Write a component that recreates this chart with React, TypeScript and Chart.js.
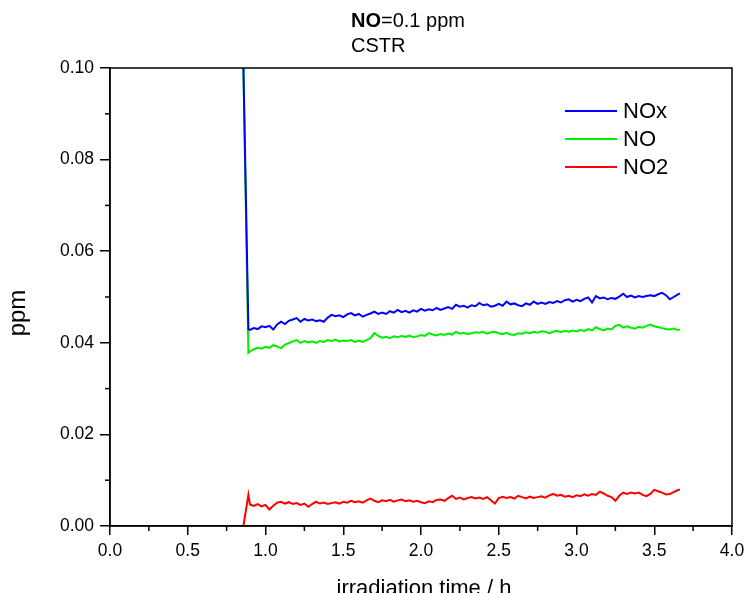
import React, { useEffect, useRef } from "react";
import { Chart, registerables } from "chart.js";

Chart.register(...registerables);

// irradiation time / h
const timeH = [
  0.858, 0.890,
  0.900, 0.925, 0.950, 0.975, 1.000, 1.025, 1.050, 1.075, 1.100, 1.125,
  1.150, 1.175, 1.200, 1.225, 1.250, 1.275, 1.300, 1.325, 1.350, 1.375,
  1.400, 1.425, 1.450, 1.475, 1.500, 1.525, 1.550, 1.575, 1.600, 1.625,
  1.650, 1.675, 1.700, 1.725, 1.750, 1.775, 1.800, 1.825, 1.850, 1.875,
  1.900, 1.925, 1.950, 1.975, 2.000, 2.025, 2.050, 2.075, 2.100, 2.125,
  2.150, 2.175, 2.200, 2.225, 2.250, 2.275, 2.300, 2.325, 2.350, 2.375,
  2.400, 2.425, 2.450, 2.475, 2.500, 2.525, 2.550, 2.575, 2.600, 2.625,
  2.650, 2.675, 2.700, 2.725, 2.750, 2.775, 2.800, 2.825, 2.850, 2.875,
  2.900, 2.925, 2.950, 2.975, 3.000, 3.025, 3.050, 3.075, 3.100, 3.125,
  3.150, 3.175, 3.200, 3.225, 3.250, 3.275, 3.300, 3.325, 3.350, 3.375,
  3.400, 3.425, 3.450, 3.475, 3.500, 3.525, 3.550, 3.575, 3.600, 3.625,
  3.650, 3.665,
];

const noxPpm = [
  0.1000, 0.0430,
  0.0428, 0.0432, 0.0430, 0.0436, 0.0434, 0.0437, 0.0429, 0.0440, 0.0446, 0.0441,
  0.0448, 0.0451, 0.0454, 0.0446, 0.0452, 0.0449, 0.0451, 0.0447, 0.0449, 0.0446,
  0.0455, 0.0461, 0.0458, 0.0460, 0.0456, 0.0462, 0.0465, 0.0460, 0.0463, 0.0457,
  0.0461, 0.0464, 0.0468, 0.0463, 0.0466, 0.0463, 0.0469, 0.0466, 0.0472, 0.0467,
  0.0470, 0.0466, 0.0471, 0.0468, 0.0474, 0.0470, 0.0473, 0.0471, 0.0476, 0.0472,
  0.0475, 0.0478, 0.0474, 0.0483, 0.0479, 0.0481, 0.0477, 0.0482, 0.0480, 0.0487,
  0.0482, 0.0484, 0.0479, 0.0481, 0.0485, 0.0481, 0.0490, 0.0484, 0.0486, 0.0482,
  0.0480, 0.0486, 0.0483, 0.0490, 0.0485, 0.0488, 0.0485, 0.0489, 0.0487, 0.0491,
  0.0488, 0.0493, 0.0495, 0.0490, 0.0494, 0.0491, 0.0496, 0.0499, 0.0488, 0.0502,
  0.0497, 0.0499, 0.0495, 0.0498, 0.0496, 0.0501, 0.0507, 0.0500, 0.0503, 0.0499,
  0.0502, 0.0500, 0.0502, 0.0504, 0.0502, 0.0506, 0.0509, 0.0504, 0.0495, 0.0500,
  0.0505, 0.0508,
];

const noPpm = [
  0.1000, 0.0378,
  0.0381, 0.0386, 0.0389, 0.0387, 0.0391, 0.0389, 0.0395, 0.0392, 0.0388, 0.0396,
  0.0399, 0.0403, 0.0406, 0.0400, 0.0404, 0.0401, 0.0403, 0.0400, 0.0404, 0.0402,
  0.0406, 0.0404, 0.0407, 0.0403, 0.0405, 0.0404, 0.0406, 0.0402, 0.0405, 0.0402,
  0.0406, 0.0410, 0.0421, 0.0415, 0.0411, 0.0413, 0.0410, 0.0414, 0.0412, 0.0415,
  0.0413, 0.0416, 0.0412, 0.0414, 0.0417, 0.0415, 0.0421, 0.0418, 0.0416, 0.0419,
  0.0417, 0.0420, 0.0418, 0.0424, 0.0420, 0.0422, 0.0419, 0.0421, 0.0423, 0.0422,
  0.0424, 0.0420, 0.0423, 0.0424, 0.0421, 0.0419, 0.0422, 0.0418, 0.0417, 0.0421,
  0.0420, 0.0423, 0.0421, 0.0424, 0.0422, 0.0425, 0.0424, 0.0421, 0.0424, 0.0426,
  0.0423, 0.0426, 0.0424, 0.0427, 0.0425, 0.0428, 0.0426, 0.0430, 0.0427, 0.0434,
  0.0430, 0.0427, 0.0431, 0.0429, 0.0437, 0.0439, 0.0433, 0.0436, 0.0433, 0.0431,
  0.0435, 0.0433, 0.0437, 0.0440, 0.0436, 0.0434, 0.0432, 0.0430, 0.0429, 0.0431,
  0.0428, 0.0429,
];

const no2Ppm = [
  0.0000, 0.0068,
  0.0047, 0.0044, 0.0048, 0.0043, 0.0046, 0.0036, 0.0044, 0.0051, 0.0053, 0.0049,
  0.0052, 0.0048, 0.0050, 0.0046, 0.0049, 0.0042, 0.0048, 0.0053, 0.0049, 0.0051,
  0.0048, 0.0050, 0.0052, 0.0049, 0.0053, 0.0051, 0.0055, 0.0052, 0.0054, 0.0051,
  0.0056, 0.0060, 0.0055, 0.0052, 0.0056, 0.0054, 0.0057, 0.0053, 0.0056, 0.0058,
  0.0054, 0.0056, 0.0053, 0.0055, 0.0052, 0.0050, 0.0054, 0.0052, 0.0057, 0.0058,
  0.0055, 0.0061, 0.0066, 0.0059, 0.0062, 0.0058, 0.0061, 0.0063, 0.0060, 0.0062,
  0.0059, 0.0063, 0.0056, 0.0049, 0.0061, 0.0064, 0.0061, 0.0063, 0.0060, 0.0066,
  0.0063, 0.0060, 0.0064, 0.0061, 0.0063, 0.0065, 0.0062, 0.0067, 0.0070, 0.0066,
  0.0068, 0.0064, 0.0066, 0.0063, 0.0067, 0.0065, 0.0069, 0.0066, 0.0070, 0.0068,
  0.0075, 0.0071, 0.0066, 0.0063, 0.0055, 0.0066, 0.0073, 0.0070, 0.0073, 0.0071,
  0.0073, 0.0068, 0.0065, 0.0070, 0.0079, 0.0076, 0.0073, 0.0069, 0.0070, 0.0074,
  0.0078, 0.0080,
];

const seriesLabels = ["NOx", "NO", "NO2"];
const seriesColors = ["#0000ff", "#00ee00", "#ff0000"];
const titleBold = "NO";
const titleRest = "=0.1 ppm";
const subTitle = "CSTR";
const xTitle = "irradiation time / h";
const yTitle = "ppm";

const FONT = "'Liberation Sans', Arial, Helvetica, sans-serif";

const decorPlugin = {
  id: "decor",
  afterDraw(chart: any) {
    const ctx = chart.ctx as CanvasRenderingContext2D;
    const ca = chart.chartArea;
    ctx.save();
    // frame
    ctx.strokeStyle = "#000";
    ctx.lineWidth = 1.5;
    ctx.strokeRect(ca.left, ca.top, ca.right - ca.left, ca.bottom - ca.top);

    // minor ticks
    ctx.lineWidth = 1.5;
    const xs = chart.scales.x;
    const xt = xs.ticks.map((t: any) => t.value);
    for (let i = 0; i < xt.length - 1; i++) {
      const p = xs.getPixelForValue((xt[i] + xt[i + 1]) / 2);
      ctx.beginPath();
      ctx.moveTo(p, ca.bottom);
      ctx.lineTo(p, ca.bottom + 5);
      ctx.stroke();
    }
    const ys = chart.scales.y;
    const yt = ys.ticks.map((t: any) => t.value);
    for (let i = 0; i < yt.length - 1; i++) {
      const p = ys.getPixelForValue((yt[i] + yt[i + 1]) / 2);
      ctx.beginPath();
      ctx.moveTo(ca.left - 5, p);
      ctx.lineTo(ca.left, p);
      ctx.stroke();
    }

    // title
    ctx.fillStyle = "#000";
    ctx.textAlign = "left";
    ctx.textBaseline = "alphabetic";
    ctx.font = `bold 20px ${FONT}`;
    const tx = 351;
    ctx.fillText(titleBold, tx, 27);
    const bw = ctx.measureText(titleBold).width;
    ctx.font = `20px ${FONT}`;
    ctx.fillText(titleRest, tx + bw, 27);
    ctx.fillText(subTitle, tx, 52);

    // legend
    ctx.font = `22px ${FONT}`;
    ctx.textBaseline = "middle";
    chart.data.datasets.forEach((ds: any, i: number) => {
      const y = 111 + 28 * i;
      ctx.strokeStyle = ds.borderColor;
      ctx.lineWidth = 2;
      ctx.beginPath();
      ctx.moveTo(565, y);
      ctx.lineTo(617, y);
      ctx.stroke();
      ctx.fillStyle = "#000";
      ctx.fillText(ds.label, 623, y + 1);
    });

    // axis titles
    ctx.textBaseline = "alphabetic";
    ctx.textAlign = "center";
    ctx.font = `22px ${FONT}`;
    ctx.fillText(xTitle, (ca.left + ca.right) / 2 + 3, 595);
    ctx.save();
    ctx.translate(25, 313);
    ctx.rotate(-Math.PI / 2);
    ctx.font = `24px ${FONT}`;
    ctx.fillText(yTitle, 0, 0);
    ctx.restore();
    ctx.restore();
  },
};

export default function App() {
  const ref = useRef<HTMLCanvasElement | null>(null);
  useEffect(() => {
    document.body.style.margin = "0";
    if (!ref.current) return;
    const all = [noxPpm, noPpm, no2Ppm];
    const chart = new Chart(ref.current, {
      type: "line",
      data: {
        datasets: all.map((vals, i) => ({
          label: seriesLabels[i],
          data: timeH.map((t, j) => ({ x: t, y: vals[j] })),
          borderColor: seriesColors[i],
          backgroundColor: seriesColors[i],
          borderWidth: 2,
          pointRadius: 0,
          tension: 0,
          fill: false,
        })),
      },
      options: {
        animation: false,
        responsive: true,
        maintainAspectRatio: false,
        layout: { padding: { top: 68, right: 15, left: 0, bottom: 0 } },
        plugins: {
          legend: { display: false },
          title: { display: false },
          tooltip: { enabled: false },
        },
        scales: {
          x: {
            type: "linear",
            min: 0,
            max: 4,
            afterFit: (s: any) => {
              s.height = 67;
              s.paddingLeft = 0;
              s.paddingRight = 0;
            },
            border: { display: true, color: "#000", width: 1.5 },
            grid: {
              display: true,
              drawOnChartArea: false,
              drawTicks: true,
              tickLength: 9,
              tickColor: "#000",
              tickWidth: 1.5,
              lineWidth: 1.5,
            },
            ticks: {
              stepSize: 0.5,
              autoSkip: false,
              maxRotation: 0,
              padding: 6,
              color: "#000",
              font: { family: FONT, size: 17.5 },
              callback: (v: any) => Number(v).toFixed(1),
            },
          },
          y: {
            type: "linear",
            min: 0,
            max: 0.1,
            afterFit: (s: any) => {
              s.width = 110;
              s.paddingTop = 0;
              s.paddingBottom = 0;
            },
            border: { display: true, color: "#000", width: 1.5 },
            grid: {
              display: true,
              drawOnChartArea: false,
              drawTicks: true,
              tickLength: 10,
              tickColor: "#000",
              tickWidth: 1.5,
              lineWidth: 1.5,
            },
            ticks: {
              stepSize: 0.02,
              autoSkip: false,
              padding: 6,
              color: "#000",
              font: { family: FONT, size: 17.5 },
              callback: (v: any) => Number(v).toFixed(2),
            },
          },
        },
      },
      plugins: [decorPlugin],
    });
    return () => chart.destroy();
  }, []);
  return (
    <div style={{ width: 747, height: 593, position: "relative" }}>
      <canvas ref={ref} />
    </div>
  );
}
